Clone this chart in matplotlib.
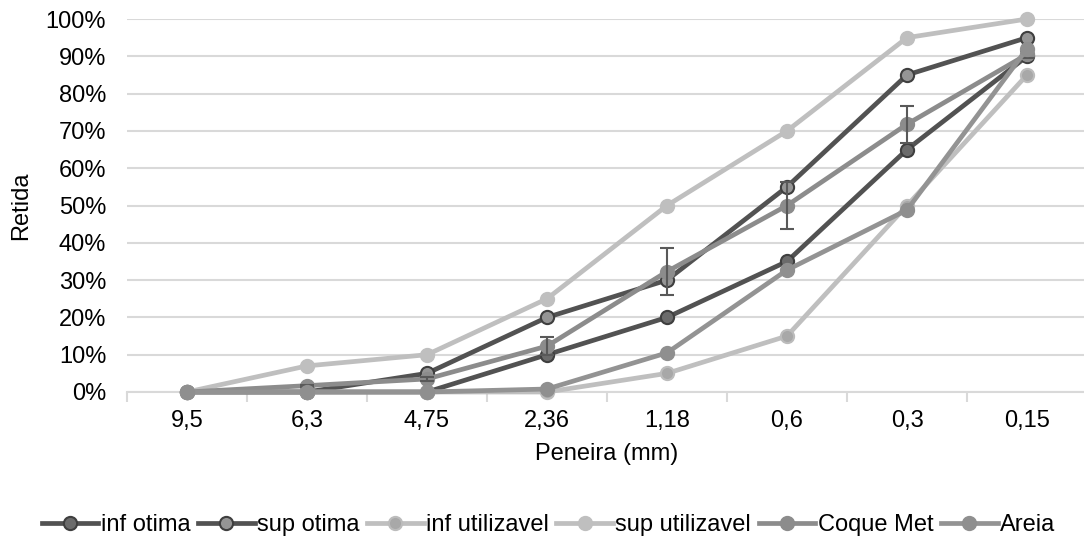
import numpy as np
import matplotlib
matplotlib.use("Agg")
from matplotlib import pyplot as plt

plt.rcParams['font.family'] = ['Liberation Sans', 'DejaVu Sans']

##### Data
peneiras = ["9,5", "6,3", "4,75", "2,36", "1,18", "0,6", "0,3", "0,15"]
inf_otima = [0, 0, 0, 10, 20, 35, 65, 90]
sup_otima = [0, 0, 5, 20, 30, 55, 85, 95]
inf_utilizavel = [0, 0, 0, 0, 5, 15, 50, 85]
sup_utilizavel = [0, 7, 10, 25, 50, 70, 95, 100]
coque_met = [0, 1.7, 3.5, 12.3, 32.3, 50.0, 71.8, 90.5]
coque_err = [0, 0.3, 0.5, 2.5, 6.3, 6.3, 5.0, 1.0]
areia = [0, 0, 0, 0.8, 10.5, 32.7, 48.8, 92.0]

series = [
    ("inf otima", inf_otima, "#525252", "#6b6b6b", "#3f3f3f"),
    ("sup otima", sup_otima, "#525252", "#959595", "#3f3f3f"),
    ("inf utilizavel", inf_utilizavel, "#bfbfbf", "#a8a8a8", "#bcbcbc"),
    ("sup utilizavel", sup_utilizavel, "#bfbfbf", "#bfbfbf", "#bfbfbf"),
    ("Coque Met", coque_met, "#8c8c8c", "#8c8c8c", "#8c8c8c"),
    ("Areia", areia, "#939393", "#8f8f8f", "#8f8f8f"),
]

fig = plt.figure(figsize=(10.84, 5.42), dpi=100)
ax = fig.add_axes([127 / 1084, 1 - 392 / 542, 960 / 1084, 373 / 542])
x = np.arange(len(peneiras))

for i, (label, vals, lc, fc, ec) in enumerate(series):
    ax.plot(x, vals, color=lc, lw=3.4, marker="o", markersize=9.5,
            markerfacecolor=fc, markeredgecolor=ec, markeredgewidth=1.5,
            label=label, zorder=3 + i, clip_on=False)
    if label == "Coque Met":
        ax.errorbar(x, vals, yerr=coque_err, fmt="none", ecolor="#595959",
                    elinewidth=1.5, capsize=5, capthick=1.5, zorder=3 + i)

ax.set_xlim(-0.5, 7.5)
ax.set_ylim(0, 100)
ax.set_yticks(np.arange(0, 101, 10))
ax.set_yticklabels(["{}%".format(v) for v in range(0, 101, 10)])
ax.set_xticks(x)
ax.set_xticklabels(peneiras)
ax.set_xticks(np.arange(-0.5, 7.5, 1), minor=True)
ax.tick_params(axis="x", which="major", length=0, labelsize=17, pad=13)
ax.tick_params(axis="x", which="minor", length=7, color="#d9d9d9", width=1.5)
ax.tick_params(axis="y", length=0, labelsize=17, pad=15)
ax.grid(axis="y", color="#d9d9d9", lw=1.5)
ax.set_axisbelow(True)
for s in ["top", "right", "left"]:
    ax.spines[s].set_visible(False)
ax.spines["bottom"].set_color("#d9d9d9")
ax.spines["bottom"].set_linewidth(1.5)

ax.set_xlabel("Peneira (mm)", fontsize=17, labelpad=8)
ax.set_ylabel("Retida", fontsize=17, labelpad=10)

fig.legend(loc="center", bbox_to_anchor=(0.506, 1 - 525 / 542), ncol=6,
           frameon=False, fontsize=17, handlelength=2.4, handletextpad=0.1,
           columnspacing=0.32, borderaxespad=0)

fig.savefig("out.png", dpi=100)
